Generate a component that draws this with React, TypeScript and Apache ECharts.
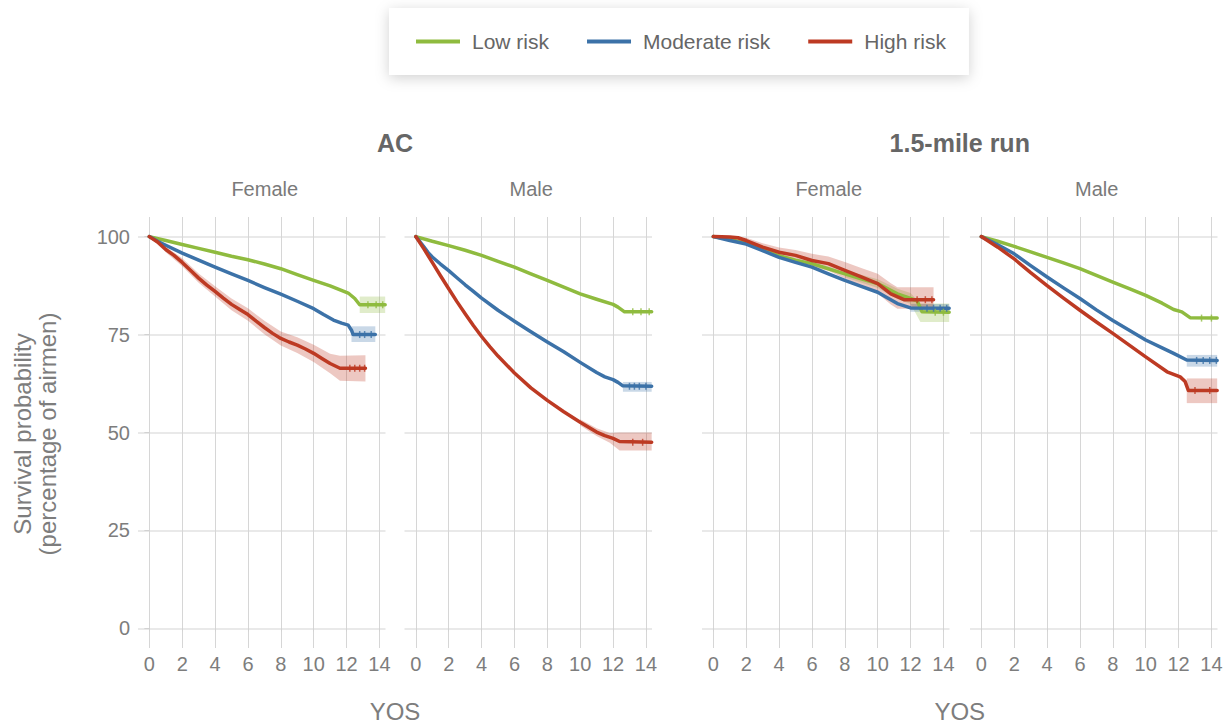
import React, { useEffect, useRef } from "react";
import * as echarts from "echarts";

// Kaplan–Meier survival estimates, [years of service, survival %]
const acFemaleLow = [[0, 100], [1, 99.0], [2, 98.0], [3, 97.0], [4, 96.0], [5, 95.0], [6, 94.1], [7, 93.0], [8, 91.8], [9, 90.3], [10, 88.8], [11, 87.4], [11.8, 86.1], [12.1, 85.6], [12.5, 84.2], [12.8, 82.6], [14.35, 82.6]];
const acFemaleMod = [[0, 100], [0.5, 98.8], [1, 97.8], [2, 95.8], [3, 94.0], [4, 92.2], [5, 90.5], [6, 88.8], [7, 87.0], [8, 85.3], [9, 83.5], [10, 81.6], [10.6, 80.1], [11.2, 78.7], [11.7, 77.9], [12.1, 77.4], [12.3, 76.1], [12.4, 75.0], [13.75, 75.0]];
const acFemaleHigh = [[0, 100], [0.5, 98.6], [1, 96.7], [1.5, 95.2], [2, 93.4], [2.5, 91.4], [3, 89.4], [3.5, 87.6], [4, 86.0], [4.5, 84.3], [5, 82.7], [5.5, 81.4], [6, 80.1], [6.5, 78.4], [7, 76.8], [7.5, 75.3], [8, 74.0], [8.5, 73.1], [9, 72.3], [9.5, 71.3], [10, 70.2], [10.5, 68.9], [11, 67.6], [11.6, 66.4], [13.15, 66.4]];

const acMaleLow = [[0, 100], [1, 98.8], [2, 97.7], [3, 96.5], [4, 95.2], [5, 93.7], [6, 92.2], [7, 90.5], [8, 88.8], [9, 87.1], [10, 85.4], [11, 84.0], [12, 82.7], [12.3, 82.0], [12.7, 80.8], [14.35, 80.8]];
const acMaleMod = [[0, 100], [0.25, 98.7], [0.5, 97.3], [0.75, 95.9], [1, 94.8], [1.5, 93.0], [2, 91.3], [2.5, 89.5], [3, 87.7], [3.5, 86.0], [4, 84.3], [5, 81.2], [6, 78.4], [7, 75.7], [8, 73.1], [9, 70.6], [10, 67.9], [11, 65.3], [11.5, 64.2], [12, 63.5], [12.3, 62.8], [12.6, 61.9], [14.35, 61.8]];
const acMaleHigh = [[0, 100], [0.5, 96.8], [1, 93.4], [1.5, 90.0], [2, 86.7], [2.5, 83.4], [3, 80.3], [3.5, 77.3], [4, 74.5], [4.5, 71.9], [5, 69.5], [6, 65.2], [7, 61.4], [8, 58.2], [9, 55.3], [10, 52.6], [11, 50.1], [11.5, 49.2], [12, 48.5], [12.4, 47.7], [14.35, 47.5]];

const runFemaleLow = [[0, 100], [1, 99.3], [2, 98.3], [3, 96.8], [4, 95.1], [5, 94.0], [6, 93.1], [7, 91.8], [8, 90.5], [9, 89.2], [10, 88.0], [11.2, 85.4], [12, 84.2], [12.4, 83.6], [12.7, 80.8], [14.35, 80.7]];
const runFemaleMod = [[0, 100], [1, 99.0], [2, 98.1], [3, 96.4], [4, 94.7], [5, 93.4], [6, 92.2], [7, 90.5], [8, 88.8], [9, 87.3], [10, 85.8], [10.5, 84.6], [11.2, 82.9], [12, 81.8], [14.35, 81.7]];
const runFemaleHigh = [[0, 100], [1, 99.9], [1.5, 99.7], [2, 99.0], [3, 97.3], [4, 96.0], [5, 95.2], [6, 93.9], [7, 93.1], [8, 91.4], [9, 89.7], [10, 88.0], [10.8, 85.4], [11.6, 83.9], [13.4, 83.9]];

const runMaleLow = [[0, 100], [1, 98.8], [2, 97.5], [3, 96.1], [4, 94.7], [5, 93.3], [6, 91.8], [7, 90.1], [8, 88.4], [9, 86.7], [10, 85.0], [11, 83.0], [11.7, 81.4], [12.2, 80.8], [12.7, 79.3], [14.35, 79.2]];
const runMaleMod = [[0, 100], [1, 97.9], [2, 95.6], [3, 92.6], [4, 89.7], [5, 86.9], [6, 84.2], [7, 81.3], [8, 78.6], [9, 76.1], [10, 73.6], [11, 71.6], [11.7, 70.2], [12.5, 68.5], [14.35, 68.4]];
const runMaleHigh = [[0, 100], [1, 97.3], [2, 94.3], [3, 90.8], [4, 87.5], [5, 84.3], [6, 81.2], [7, 78.2], [8, 75.3], [9, 72.3], [10, 69.3], [11.3, 65.5], [12.1, 64.2], [12.4, 63.0], [12.6, 60.7], [14.35, 60.7]];

// 95% confidence bands, [years, lower %, upper %]
const acFemaleLowBand = [[12.8, 80.5, 84.7], [14.35, 80.5, 84.7]];
const acFemaleModBand = [[12.3, 73.1, 77.1], [13.75, 73.1, 77.1]];
const acFemaleHighBand = [[0, 100, 100], [1, 96.0, 97.4], [2, 92.4, 94.5], [3, 88.2, 90.6], [4, 84.7, 87.3], [5, 81.2, 84.2], [6, 78.5, 81.7], [7, 75.1, 78.5], [8, 72.2, 75.8], [9, 70.3, 74.3], [10, 68.0, 72.4], [11, 65.1, 70.1], [11.6, 63.2, 69.6], [13.15, 63.0, 69.7]];
const acMaleModBand = [[12.6, 60.4, 62.9], [14.35, 60.4, 62.9]];
const acMaleHighBand = [[10, 51.8, 53.4], [11, 49.1, 51.1], [11.8, 47.4, 49.9], [12.4, 45.4, 50.0], [14.35, 45.4, 50.0]];
const runFemaleLowBand = [[8, 89.6, 91.4], [10, 86.9, 89.1], [11.2, 84.1, 86.7], [12, 82.8, 85.6], [12.6, 78.2, 82.9], [14.35, 78.2, 82.9]];
const runFemaleModBand = [[12, 80.8, 82.8], [14.35, 80.8, 82.8]];
const runFemaleHighBand = [[0, 100, 100], [2, 98.3, 99.7], [3, 96.3, 98.3], [4, 94.8, 97.2], [5, 93.8, 96.6], [6, 92.2, 95.6], [7, 91.3, 94.9], [8, 89.3, 93.5], [9, 87.4, 92.0], [10, 85.5, 90.5], [10.8, 82.7, 88.1], [11.2, 81.6, 87.1], [13.4, 81.6, 87.1]];
const runMaleModBand = [[12.5, 66.8, 69.8], [14.35, 66.8, 69.8]];
const runMaleHighBand = [[12.5, 57.5, 63.8], [14.35, 57.5, 63.8]];

// censored observations on the flat tails (years)
const acFemaleLowCensor = [13.3, 13.8, 14.2];
const acFemaleModCensor = [12.8, 13.1, 13.5];
const acFemaleHighCensor = [12.2, 12.5, 12.8, 13.1];
const acMaleLowCensor = [13.2, 13.7, 14.2];
const acMaleModCensor = [13.0, 13.3, 13.6, 14.0];
const acMaleHighCensor = [13.2, 13.8];
const runFemaleLowCensor = [13.5, 14.0];
const runFemaleModCensor = [13.0, 13.4, 13.8, 14.2];
const runFemaleHighCensor = [12.4, 12.9, 13.3];
const runMaleLowCensor = [13.4, 14.0];
const runMaleModCensor = [13.1, 13.5, 13.9, 14.3];
const runMaleHighCensor = [13.0, 13.9];

const riskNames = ["Low risk", "Moderate risk", "High risk"];
const riskColors = ["#8fbb3f", "#3c72a8", "#bd3a23"];
const xTicks = [0, 2, 4, 6, 8, 10, 12, 14];
const yTicks = [0, 25, 50, 75, 100];
const testTitles = ["AC", "1.5-mile run"];
const sexLabels = ["Female", "Male", "Female", "Male"];

const panels = [
  { lines: [acFemaleLow, acFemaleMod, acFemaleHigh], bands: [acFemaleLowBand, acFemaleModBand, acFemaleHighBand], censor: [acFemaleLowCensor, acFemaleModCensor, acFemaleHighCensor] },
  { lines: [acMaleLow, acMaleMod, acMaleHigh], bands: [null, acMaleModBand, acMaleHighBand], censor: [acMaleLowCensor, acMaleModCensor, acMaleHighCensor] },
  { lines: [runFemaleLow, runFemaleMod, runFemaleHigh], bands: [runFemaleLowBand, runFemaleModBand, runFemaleHighBand], censor: [runFemaleLowCensor, runFemaleModCensor, runFemaleHighCensor] },
  { lines: [runMaleLow, runMaleMod, runMaleHigh], bands: [null, runMaleModBand, runMaleHighBand], censor: [runMaleLowCensor, runMaleModCensor, runMaleHighCensor] },
];

// panel placement in pixels
const panelLeft = [138, 404.5, 702, 970];
const panelWidth = 247.5;
const panelTop = 217;
const panelHeight = 431;

const FONT = "'Liberation Sans', Arial, Helvetica, sans-serif";

function bandSeries(band: number[][], color: string, idx: number, name: string) {
  return {
    type: "custom",
    name,
    xAxisIndex: idx,
    yAxisIndex: idx,
    silent: true,
    z: 1,
    data: band,
    renderItem: (params: any, api: any) => {
      if (params.dataIndex !== 0) return null;
      const upper = band.map((d) => api.coord([d[0], d[2]]));
      const lower = band.map((d) => api.coord([d[0], d[1]])).reverse();
      return {
        type: "polygon",
        shape: { points: upper.concat(lower) },
        style: { fill: color, opacity: 0.28 },
      };
    },
  };
}

export default function App() {
  const ref = useRef<HTMLDivElement>(null);

  useEffect(() => {
    if (!ref.current) return;
    const chart = echarts.init(ref.current, null, { renderer: "svg" });

    const grids = panels.map((_, i) => ({
      left: panelLeft[i],
      top: panelTop,
      width: panelWidth,
      height: panelHeight,
    }));

    const xAxes = panels.map((_, i) => ({
      type: "value",
      gridIndex: i,
      min: -0.69,
      max: 14.37,
      axisLine: { show: false },
      axisTick: { show: true, length: 3, customValues: xTicks, lineStyle: { color: "#d2d2d2" } },
      axisLabel: { customValues: xTicks, color: "#7d7d7d", fontSize: 20, fontFamily: FONT, margin: 6 },
      splitLine: { show: true, lineStyle: { color: "#d6d6d6", width: 1 } },
    }));

    const yAxes = panels.map((_, i) => ({
      type: "value",
      gridIndex: i,
      min: -5,
      max: 105,
      axisLine: { show: false },
      axisTick: { show: i === 0, length: 5, customValues: yTicks, lineStyle: { color: "#d2d2d2" } },
      axisLabel: { show: i === 0, customValues: yTicks, color: "#7d7d7d", fontSize: 20, fontFamily: FONT, margin: 8 },
      splitLine: { show: true, lineStyle: { color: "#e2e2e2", width: 1.5 } },
    }));

    const series: any[] = [];
    panels.forEach((p, i) => {
      p.lines.forEach((data, r) => {
        series.push({
          type: "line",
          name: riskNames[r],
          xAxisIndex: i,
          yAxisIndex: i,
          data,
          showSymbol: false,
          z: 3,
          lineStyle: { color: riskColors[r], width: 3.5, join: "round", cap: "round" },
          itemStyle: { color: riskColors[r] },
        });
      });
    });
    panels.forEach((p, i) => {
      p.bands.forEach((band, r) => {
        if (band) series.push(bandSeries(band, riskColors[r], i, riskNames[r]));
      });
      p.censor.forEach((xs, r) => {
        const line = p.lines[r];
        const tail = line[line.length - 1][1];
        series.push({
          type: "scatter",
          name: riskNames[r],
          xAxisIndex: i,
          yAxisIndex: i,
          silent: true,
          z: 4,
          symbol: "rect",
          symbolSize: [1.5, 7],
          itemStyle: { color: riskColors[r] },
          data: xs.map((x) => [x, tail]),
        });
      });
    });

    const graphic: any[] = [];
    testTitles.forEach((t, k) => {
      const a = panelLeft[k * 2];
      const b = panelLeft[k * 2 + 1] + panelWidth;
      graphic.push({
        type: "text",
        x: (a + b) / 2,
        y: 143,
        style: { text: t, fill: "#666666", font: `bold 25px ${FONT}`, textAlign: "center", textVerticalAlign: "middle" },
      });
      graphic.push({
        type: "text",
        x: (a + b) / 2,
        y: 711,
        style: { text: "YOS", fill: "#7d7d7d", font: `24px ${FONT}`, textAlign: "center", textVerticalAlign: "middle" },
      });
    });
    sexLabels.forEach((s, i) => {
      graphic.push({
        type: "text",
        x: panelLeft[i] + panelWidth / 2 + 3,
        y: 189,
        style: { text: s, fill: "#7a7a7a", font: `20px ${FONT}`, textAlign: "center", textVerticalAlign: "middle" },
      });
    });
    graphic.push({
      type: "text",
      x: 35,
      y: 434,
      rotation: Math.PI / 2,
      style: {
        text: "Survival probability\n(percentage of airmen)",
        fill: "#7d7d7d",
        font: `24px ${FONT}`,
        lineHeight: 25,
        textAlign: "center",
        textVerticalAlign: "middle",
      },
    });

    chart.setOption({
      animation: false,
      backgroundColor: "#ffffff",
      legend: {
        data: riskNames,
        left: 389,
        top: 8,
        padding: [21, 23, 21, 27],
        itemGap: 38,
        itemWidth: 44,
        itemHeight: 4,
        icon: "rect",
        backgroundColor: "#ffffff",
        shadowBlur: 14,
        shadowColor: "rgba(0,0,0,0.18)",
        shadowOffsetY: 3,
        textStyle: { color: "#666666", fontSize: 21, fontFamily: FONT, lineHeight: 25, padding: [0, 0, 0, 7] },
      },
      grid: grids,
      xAxis: xAxes,
      yAxis: yAxes,
      series,
      graphic,
    });

    return () => chart.dispose();
  }, []);

  return (
    <div
      ref={ref}
      style={{ position: "fixed", left: 0, top: 0, width: 1231, height: 726, background: "#fff" }}
    />
  );
}
